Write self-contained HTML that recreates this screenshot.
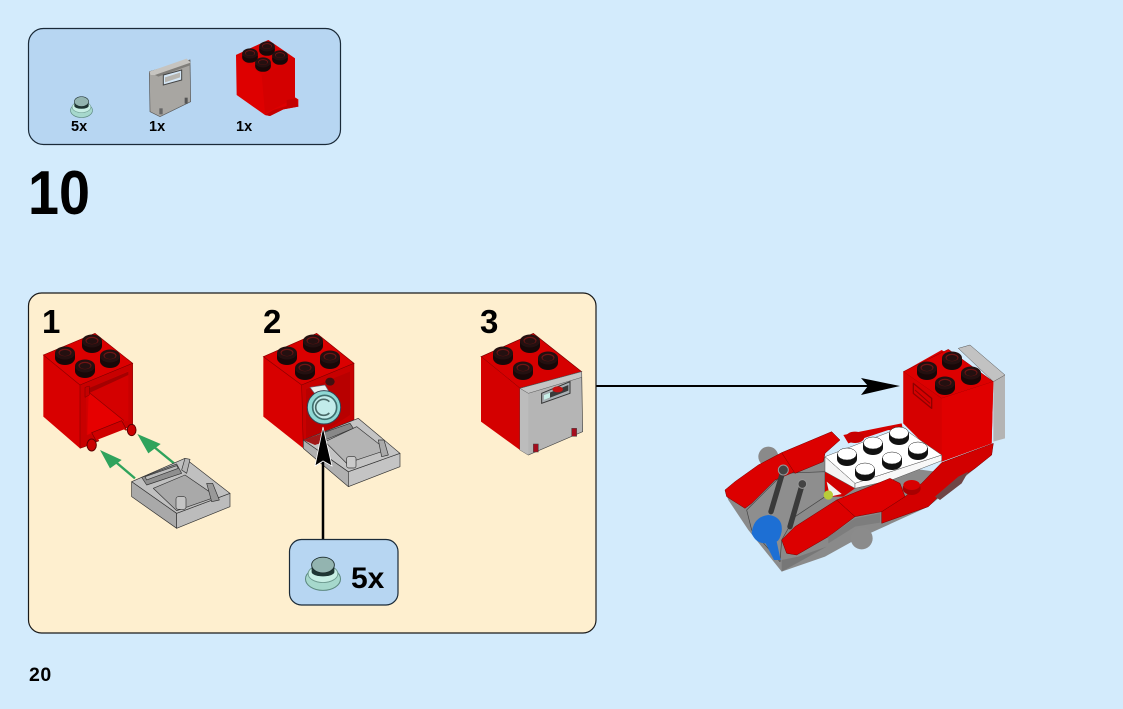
<!DOCTYPE html>
<html><head><meta charset="utf-8"><style>
html,body{margin:0;padding:0;background:#d3ebfc;width:1123px;height:709px;overflow:hidden}
svg{display:block}
text{font-family:"Liberation Sans",sans-serif;font-weight:700;fill:#000}
</style></head><body>
<svg width="1123" height="709" viewBox="0 0 1123 709" xmlns="http://www.w3.org/2000/svg">
<defs>
<g id="s"><ellipse cx="0" cy="3" rx="10" ry="7" fill="#180808"/><rect x="-10" y="-2" width="20" height="5" fill="#180808"/><ellipse cx="0" cy="-2" rx="10" ry="6.500" fill="#241010"/><ellipse cx="0" cy="-2.500" rx="6.500" ry="3.800" fill="#701414"/><ellipse cx="0" cy="-2" rx="5.500" ry="3" fill="#241010"/></g>
<g id="w"><ellipse cx="0" cy="3" rx="10" ry="7" fill="#111"/><rect x="-10" y="-2" width="20" height="5" fill="#111"/><ellipse cx="0" cy="-2" rx="9.500" ry="6" fill="#fff" stroke="#222" stroke-width=".5"/></g>
<g id="clip"><ellipse cx="0" cy="4" rx="10" ry="6.500" fill="#a6d8cc" stroke="#5d8a80" stroke-width=".6"/><ellipse cx="0" cy="1" rx="8.500" ry="5" fill="#c7eee4" stroke="#6d9a90" stroke-width=".5"/><path d="M-6.500 -4v4a6.500 2.500 0 0 0 13 0v-4z" fill="#1f3634"/><ellipse cx="0" cy="-4" rx="6.500" ry="4.500" fill="#93b4b0" stroke="#1c2c2c" stroke-width=".5"/></g>
</defs>

<rect width="1123" height="709" fill="#d3ebfc"/>

<!-- parts panel -->
<rect x="28.500" y="28.500" width="312" height="116" rx="15" fill="#b7d6f2" stroke="#1a2a38" stroke-width="1.200"/>
<use href="#clip" transform="translate(81.500 106) scale(1.100)"/>
<text x="71" y="131" font-size="14.500">5x</text>
<g transform="translate(20 20) scale(.33333)">
<polygon points="388,155 510,120 512,245 420,290 390,275" fill="#a8a6a2" stroke="#555" stroke-width="2"/>
<polygon points="388,155 500,116 512,128 405,165 392,165" fill="#c6c4c0"/>
<polygon points="405,165 512,128 510,136 415,170" fill="#807e7a"/>
<polygon points="430,165 485,150 485,180 430,195" fill="#d4e6f5" stroke="#444" stroke-width="3"/>
<polygon points="435,172 480,158 480,172 435,187" fill="#b7b5b0"/>
<rect x="418" y="265" width="10" height="18" fill="#666"/><rect x="494" y="233" width="9" height="18" fill="#555"/>
<polygon points="648,105 745,60 825,115 825,232 835,238 835,260 790,268 750,288 735,285 650,225" fill="#de0000"/>
<polygon points="648,105 745,60 825,115 725,165" fill="#d80000"/>
<polygon points="725,165 825,115 825,235 735,280" fill="#d40000"/>
<polygon points="735,285 760,270 800,258 800,240 830,235 835,260 790,268 750,288" fill="#c40000"/>
</g>
<use href="#s" transform="translate(250 55) scale(.78)"/><use href="#s" transform="translate(267 48) scale(.78)"/><use href="#s" transform="translate(280 57) scale(.78)"/><use href="#s" transform="translate(263 64) scale(.78)"/>
<text x="149" y="131" font-size="14.500">1x</text>
<text x="236" y="131" font-size="14.500">1x</text>

<text x="28" y="214" font-size="62" textLength="62" lengthAdjust="spacingAndGlyphs">10</text>
<text x="29" y="681" font-size="19.500" letter-spacing=".5">20</text>

<!-- arrow to model -->
<line x1="596" y1="386" x2="870" y2="386" stroke="#000" stroke-width="2"/>
<polygon points="861,378 900,386 861,395 868,386" fill="#000"/>

<!-- step panel -->
<rect x="28.500" y="293" width="567.500" height="340" rx="13" fill="#feefcf" stroke="#1a1a1a" stroke-width="1.200"/>
<text x="42" y="333" font-size="33">1</text>
<text x="263" y="333" font-size="33">2</text>
<text x="480" y="333" font-size="33">3</text>

<!-- step 1 -->
<g transform="translate(30 300) scale(.33333)">
<polygon points="40,165 195,100 308,190 308,375 150,445 40,350" fill="#d80000"/>
<polygon points="40,165 195,100 308,190 150,255" fill="#dc0000" stroke="#8a0000" stroke-width="2"/>
<polygon points="150,255 308,190 308,375 165,440 150,445" fill="#c80000" stroke="#7a0000" stroke-width="1.500"/>
<polygon points="168,268 295,213 295,362 280,365 190,400 170,405" fill="#d40000"/>
<polygon points="180,278 295,225 295,215 168,268" fill="#a40000"/>
<polygon points="176,278 280,362 190,395 172,405" fill="#e60000"/>
<line x1="178" y1="278" x2="282" y2="362" stroke="#8a0000" stroke-width="2"/>
<polygon points="165,262 178,258 178,285 165,292" fill="#c30000" stroke="#7a0000" stroke-width="1.500"/>
<polygon points="185,398 275,362 290,390 200,425" fill="#d00000" stroke="#7c0000" stroke-width="2"/>
<polygon points="205,418 282,388 292,395 210,428" fill="#feefcf"/>
<ellipse cx="185" cy="435" rx="14" ry="18" fill="#cb0000" stroke="#5c0000" stroke-width="3"/>
<ellipse cx="305" cy="390" rx="13" ry="17" fill="#cb0000" stroke="#5c0000" stroke-width="3"/>
<!-- green arrows -->
<g stroke="#2fa35c" stroke-width="7" fill="#2fa35c">
<line x1="315" y1="535" x2="250" y2="480"/><polygon points="210,450 275,480 240,505" stroke="none"/>
<line x1="432" y1="490" x2="365" y2="435"/><polygon points="322,402 392,432 355,460" stroke="none"/>
</g>
<!-- tile -->
<g stroke="#333" stroke-width="2" stroke-linejoin="round">
<polygon points="305,545 440,640 440,685 305,590" fill="#a9a9a9"/>
<polygon points="440,640 600,580 600,620 440,685" fill="#bcbcbc"/>
<polygon points="305,545 465,475 600,580 440,640" fill="#c0c0c0"/>
<polygon points="370,565 465,525 560,590 440,632" fill="#a9a9a9"/>
<polygon points="335,532 440,492 455,520 350,555" fill="#8f8f8f"/>
<polygon points="345,530 440,497 445,505 350,540" fill="#bbb"/>
<polygon points="465,475 480,478 470,520 455,510" fill="#b5b5b5"/>
<rect x="438" y="590" width="30" height="38" rx="7" fill="#c4c4c4"/>
<polygon points="530,550 548,550 568,600 545,605" fill="#999"/>
</g>
</g>
<use href="#s" x="65" y="355"/><use href="#s" x="92" y="343"/><use href="#s" x="110" y="358"/><use href="#s" x="85" y="368"/>

<!-- step 2 -->
<g transform="translate(250 300) scale(.33333)">
<polygon points="40,170 200,100 312,190 312,370 160,445 40,350" fill="#d80000"/>
<polygon points="40,170 200,100 312,190 155,255" fill="#da0000" stroke="#8a0000" stroke-width="2"/>
<polygon points="155,255 312,190 312,370 160,445" fill="#c80000" stroke="#7a0000" stroke-width="1.500"/>
<polygon points="168,268 300,215 300,345 168,430" fill="#b80000"/>
<polygon points="180,262 225,255 240,280 195,282" fill="#e8f0ee" stroke="#667" stroke-width="2"/>
<ellipse cx="240" cy="245" rx="14" ry="12" fill="#401010"/>
<circle cx="222" cy="322" r="50" fill="#8fd8d4" stroke="#345" stroke-width="3"/>
<circle cx="224" cy="322" r="36" fill="#c2ecea" stroke="#3f6f6e" stroke-width="5"/>
<path d="M238 305a24 24 0 1 0 0 34" fill="none" stroke="#4a6a68" stroke-width="5"/>
<g stroke="#333" stroke-width="2" stroke-linejoin="round">
<polygon points="160,420 295,515 295,560 160,445" fill="#b0b0b0"/>
<polygon points="295,515 450,460 450,500 295,560" fill="#c4c4c4"/>
<polygon points="160,420 325,355 450,460 295,515" fill="#c4c4c4"/>
<polygon points="225,425 320,380 410,450 290,490" fill="#b4b4b4"/>
<polygon points="215,400 300,370 310,385 225,420" fill="#888"/>
<rect x="290" y="470" width="28" height="34" rx="6" fill="#cacaca"/>
<polygon points="385,420 402,420 415,465 395,470" fill="#aaa"/>
</g>
<polygon points="160,420 215,400 225,425 195,435" fill="#a01818"/>
</g>
<use href="#s" x="287" y="355"/><use href="#s" x="313" y="343"/><use href="#s" x="330" y="359"/><use href="#s" x="305" y="370"/>
<line x1="323" y1="539" x2="323" y2="460" stroke="#000" stroke-width="2.500"/>
<polygon points="323,427 332,466 323,461 315,466" fill="#000" stroke="#fff" stroke-width=".8"/>

<!-- callout -->
<rect x="289.500" y="539.500" width="108.500" height="65.500" rx="12" fill="#b7d6f2" stroke="#1a2a38" stroke-width="1.200"/>
<use href="#clip" transform="translate(323 572) scale(1.750)"/>
<text x="351" y="588" font-size="30">5x</text>

<!-- step 3 -->
<g transform="translate(470 300) scale(.33333)">
<polygon points="33,170 190,100 335,215 150,265" fill="#d60000" stroke="#700000" stroke-width="2"/>
<polygon points="33,170 150,265 150,450 33,365" fill="#d40000"/>
<polygon points="150,265 335,215 338,395 175,465 150,450" fill="#b5b5b5" stroke="#444" stroke-width="2"/>
<polygon points="150,265 175,280 175,465 150,450" fill="#bcbcbc"/>
<polygon points="150,265 335,215 335,232 175,280" fill="#c4c4c4" stroke="#555" stroke-width="1.500"/>
<polygon points="215,280 300,245 300,280 215,310" fill="#a8aeb2" stroke="#333" stroke-width="3"/>
<polygon points="222,285 295,255 295,272 222,300" fill="#3a3a3a"/>
<ellipse cx="263" cy="268" rx="16" ry="9" fill="#c41010"/>
<polygon points="222,285 240,278 240,293 222,300" fill="#c8eee8"/>
<rect x="190" y="432" width="15" height="24" fill="#a50d1d" stroke="#444" stroke-width="1.500"/>
<rect x="305" y="385" width="15" height="24" fill="#a50d1d" stroke="#444" stroke-width="1.500"/>
</g>
<use href="#s" x="503" y="355"/><use href="#s" x="530" y="343"/><use href="#s" x="548" y="360"/><use href="#s" x="523" y="370"/>

<!-- final model -->
<g transform="translate(715 340) scale(.33333)" stroke-linejoin="round">
<!-- rear -->
<polygon points="730,25 765,15 870,105 870,295 835,305 835,125" fill="#b4b4b4"/>
<polygon points="730,25 765,15 870,105 835,125" fill="#c2c2c2" stroke="#555" stroke-width="1.500"/>
<circle cx="160" cy="350" r="30" fill="#8a8a8a"/>
<!-- grey hull -->
<polygon points="30,450 40,480 100,570 200,695 330,650 420,600 640,500 830,345 700,400 330,350 200,400" fill="#8a8a8a"/>
<polygon points="95,510 205,400 330,395 330,470 240,530 200,600 195,665 110,570" fill="#8e8e8e" stroke="#444" stroke-width="2"/>
<!-- brick -->
<polygon points="565,95 680,30 835,125 830,310 680,365 565,250" fill="#d80000"/>
<polygon points="565,95 700,28 835,125 680,175" fill="#dc0000" stroke="#8a0000" stroke-width="1.500"/>
<polygon points="680,175 835,125 830,310 680,365" fill="#e00000"/>
<polygon points="565,95 680,175 680,365 565,250" fill="#d60000"/>
<polygon points="595,130 650,175 650,205 595,160" fill="none" stroke="#8f0000" stroke-width="4"/>
<line x1="600" y1="150" x2="645" y2="190" stroke="#8f0000" stroke-width="3"/>
<!-- rear red strip -->
<polygon points="385,285 560,250 565,275 520,270 400,310" fill="#d40000"/>
<ellipse cx="420" cy="292" rx="28" ry="17" fill="#c80000"/>
<!-- wings left -->
<polygon points="30,450 60,425 130,375 200,338 240,395 180,420 110,490 90,505 35,470" fill="#dc0000" stroke="#700" stroke-width="1.500"/>
<polygon points="200,338 350,275 375,300 330,340 325,365 240,400" fill="#dc0000" stroke="#700" stroke-width="1.500"/>
<!-- under plate -->
<polygon points="330,395 420,445 385,470 330,470" fill="#d00000"/>
<polygon points="335,425 380,462 345,470" fill="#f2f2f2"/>
<circle cx="340" cy="465" r="14" fill="#b8cc3a"/>
<!-- white plate -->
<polygon points="330,350 420,430 420,445 330,395" fill="#f4f4f4" stroke="#555" stroke-width="1.500"/>
<polygon points="420,430 680,345 680,362 530,420 420,445" fill="#f8f8f8" stroke="#555" stroke-width="1.500"/>
<polygon points="330,350 560,262 680,345 420,430" fill="#fff" stroke="#555" stroke-width="1.500"/>
<!-- right hull -->
<polygon points="500,515 570,470 620,430 680,368 835,310 830,345 780,385 700,440 640,500 500,550" fill="#d20000" stroke="#700" stroke-width="1.500"/>
<polygon points="365,480 525,415 555,430 570,470 500,515 420,530" fill="#de0000" stroke="#700" stroke-width="1.500"/>
<polygon points="200,600 240,560 365,480 420,530 340,590 245,645 215,640" fill="#dc0000" stroke="#700" stroke-width="1.500"/>
<polygon points="340,590 420,535 495,520 495,548 420,560 340,610" fill="#7d7d7d"/>
<polygon points="660,470 730,410 760,395 740,430 675,480" fill="#6f4545"/>
<ellipse cx="590" cy="445" rx="27" ry="20" fill="#a80000"/>
<ellipse cx="590" cy="435" rx="25" ry="15" fill="#d80000"/>
<circle cx="440" cy="595" r="33" fill="#8b8b8b"/>
<polygon points="200,660 250,650 335,620 200,695" fill="#777"/>
<!-- blue & levers -->
<path d="M110 580q5-50 50-55q45 5 40 50q-5 25-15 30l12 55h-20l-25-50q-30 0-42-30z" fill="#1d6fd4"/>
<g stroke="#3a3a3a" stroke-width="16" stroke-linecap="round"><line x1="205" y1="390" x2="168" y2="515"/><line x1="262" y1="432" x2="225" y2="560"/></g>
<circle cx="205" cy="390" r="15" fill="#444" stroke="#999" stroke-width="3"/><circle cx="262" cy="432" r="13" fill="#444" stroke="#999" stroke-width="3"/>
</g>
<use href="#s" x="927" y="370"/><use href="#s" x="952" y="360"/><use href="#s" x="971" y="375"/><use href="#s" x="945" y="385"/>
<use href="#w" x="847" y="456"/><use href="#w" x="873" y="445"/><use href="#w" x="899" y="435"/><use href="#w" x="865" y="471"/><use href="#w" x="892" y="460"/><use href="#w" x="918" y="450"/>
</svg>
</body></html>
